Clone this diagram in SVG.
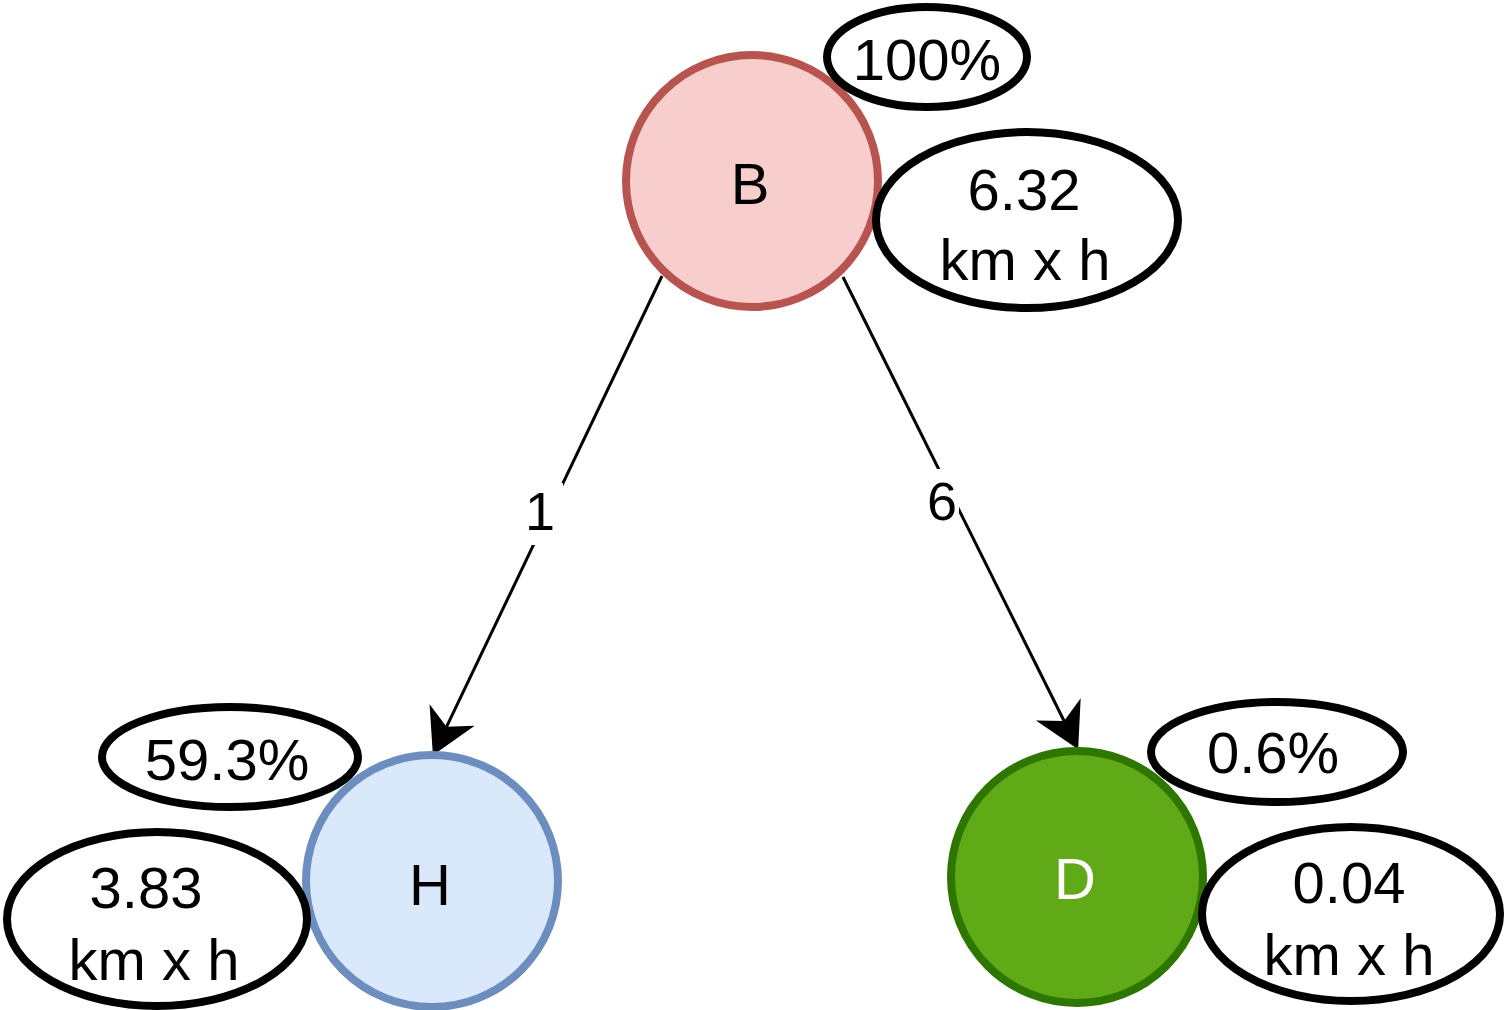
<svg xmlns="http://www.w3.org/2000/svg" width="1505" height="1010" viewBox="0 0 1505 1010">
<defs>
<style>
text{font-family:"Liberation Sans",Arial,sans-serif;font-size:58px;text-anchor:middle;fill:#000}
.edge{stroke:#000;stroke-width:3;fill:none}
.lbl{font-size:54px}
.bubble{fill:#fff;stroke:#000;stroke-width:8}
.node{stroke-width:8}
</style>
<marker id="arrow" markerUnits="userSpaceOnUse" markerWidth="50" markerHeight="50" viewBox="0 0 42 46" refX="12" refY="23" orient="auto" overflow="visible">
<path d="M41,23 L0,0 L12,23 L0,46 Z" fill="#000"/>
</marker>
</defs>
<g id="connectors">
<line class="edge" x1="662" y1="276" x2="446.5" y2="726.8" marker-end="url(#arrow)"/>
<line class="edge" x1="843" y1="277" x2="1064.1" y2="721" marker-end="url(#arrow)"/>
<rect x="523" y="483" width="40" height="62" fill="#fff"/>
<text class="lbl" x="540" y="530">1</text>
<rect x="924" y="469" width="35" height="60" fill="#fff"/>
<text class="lbl" x="942" y="520">6</text>
</g>
<g id="node-B">
<circle class="node" cx="752" cy="181" r="126" fill="#f8cecc" stroke="#b85450"/>
<text x="750" y="204">B</text>
</g>
<g id="node-H">
<circle class="node" cx="432" cy="881" r="126" fill="#dae8fc" stroke="#6c8ebf"/>
<text x="430" y="905">H</text>
</g>
<g id="node-D">
<circle class="node" cx="1077" cy="877" r="126" fill="#60a917" stroke="#2d7600"/>
<text x="1075" y="899" style="fill:#fff">D</text>
</g>
<g id="B-pct">
<ellipse class="bubble" cx="927" cy="57" rx="100" ry="50"/>
<text x="927" y="80">100%</text>
</g>
<g id="B-speed">
<ellipse class="bubble" cx="1027" cy="220" rx="151" ry="88"/>
<text x="1024" y="210">6.32</text>
<text x="1025" y="280">km x h</text>
</g>
<g id="H-pct">
<ellipse class="bubble" cx="230" cy="757" rx="128" ry="50"/>
<text x="227" y="780">59.3%</text>
</g>
<g id="H-speed">
<ellipse class="bubble" cx="157" cy="919" rx="150" ry="87"/>
<text x="146" y="908">3.83</text>
<text x="154" y="980">km x h</text>
</g>
<g id="D-pct">
<ellipse class="bubble" cx="1277" cy="752" rx="126" ry="50"/>
<text x="1273" y="773">0.6%</text>
</g>
<g id="D-speed">
<ellipse class="bubble" cx="1351" cy="914" rx="149" ry="87"/>
<text x="1349" y="903">0.04</text>
<text x="1349" y="975">km x h</text>
</g>
</svg>
